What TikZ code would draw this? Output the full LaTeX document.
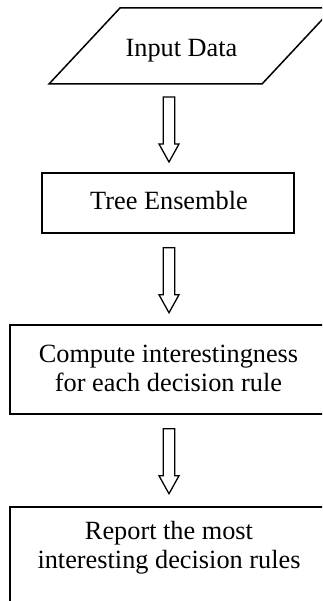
\documentclass[tikz,border=0pt]{standalone}
\usepackage{fontspec}
\setmainfont{Liberation Serif}
\usetikzlibrary{calc}
\tikzset{
  boxline/.style={draw, line width=1.5pt, inner sep=0pt},
  boxtxt/.style={inner sep=0pt, font=\fontsize{26.3}{29}\selectfont, align=center},
  arrowline/.style={draw, line width=1.3pt, line join=miter, fill=white},
  blockarrow/.pic={\draw[arrowline] (-5.7,0) -- (5.7,0) -- (5.7,47) -- (10,47) -- (0,65) -- (-10,47) -- (-5.7,47) -- cycle;}
}
\begin{document}
\begin{tikzpicture}[x=1pt,y=-1pt]
\useasboundingbox (0,0) rectangle (322,601);
\clip (0,0) rectangle (322,601);
% input parallelogram
\draw[line width=1.5pt, line join=miter] (49,84) -- (262,84) -- (333,8) -- (120,8) -- cycle;
\coordinate (inbot) at (169,84);
\node[boxtxt, anchor=base] (in) at (181.5,57) {Input Data};
% boxes
\node[boxline, minimum width=252pt, minimum height=60pt] (b2) at (168,203) {};
\node[boxtxt, anchor=base] (t2) at (169,210) {Tree Ensemble};
\node[boxline, minimum width=316pt, minimum height=89pt] (b3) at (168,369.5) {};
\node[boxtxt] (t3) at (168.5,368.4) {Compute interestingness\\for each decision rule};
\node[boxline, minimum width=316pt, minimum height=94.5pt] (b4) at (168,554.25) {};
\node[boxtxt] (t4) at (169,547.9) {Report the most\\interesting decision rules};
% arrows
\pic at ($(inbot)+(0,13)$) {blockarrow};
\pic at ($(b2.south)+(1,14)$) {blockarrow};
\pic at ($(b3.south)+(1,14)$) {blockarrow};
\end{tikzpicture}
\end{document}
